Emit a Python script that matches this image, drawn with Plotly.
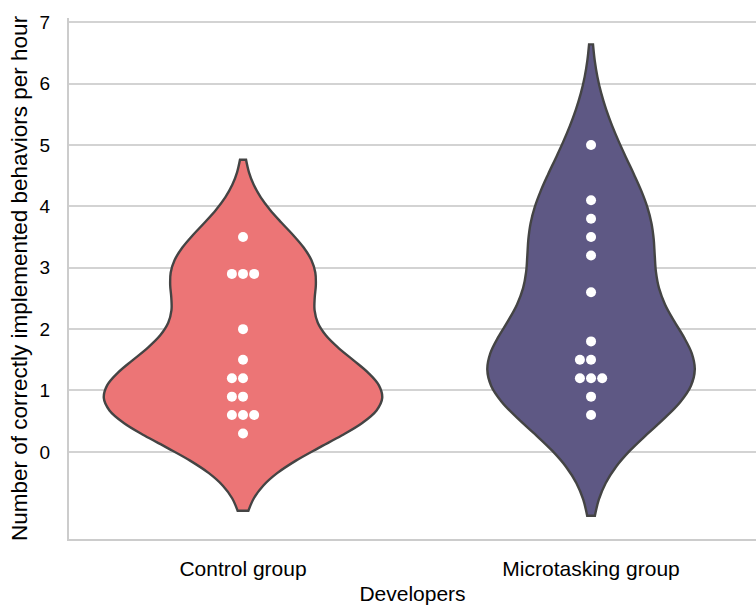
import numpy as np
import plotly.graph_objects as go

# Behaviors implemented per hour, one value per developer
groups = ["Control group", "Microtasking group"]
control = [3.5, 2.9, 2.9, 2.9, 2.0, 1.5, 1.2, 1.2, 0.9, 0.9, 0.6, 0.6, 0.6, 0.3]
microtasking = [5.0, 4.1, 3.8, 3.5, 3.2, 2.6, 1.8, 1.5, 1.5, 1.2, 1.2, 1.2, 0.9, 0.6]
y_ticks = [0, 1, 2, 3, 4, 5, 6, 7]

fills = ["#EC7576", "#5E5884"]
series = [control, microtasking]
MAX_WIDTH = 0.8


def scott_bw(vals):
    v = np.asarray(vals, dtype=float)
    return v.std(ddof=1) * len(v) ** (-1 / 5)


def kde_peak(vals):
    # peak of a Gaussian KDE, used to give the violins equal area
    v = np.asarray(vals, dtype=float)
    bw = scott_bw(v)
    grid = np.linspace(v.min() - 2 * bw, v.max() + 2 * bw, 400)
    dens = np.exp(-0.5 * ((grid[:, None] - v[None, :]) / bw) ** 2).sum(axis=1)
    return dens.max() / (len(v) * bw * np.sqrt(2 * np.pi))


def swarm_offsets(vals, step=0.032):
    # spread identical values sideways: centre, left, right, ...
    offs = []
    seen = {}
    for v in vals:
        k = seen.get(v, 0)
        seen[v] = k + 1
        if k == 0:
            offs.append(0.0)
        elif k % 2 == 1:
            offs.append(-step * ((k + 1) // 2))
        else:
            offs.append(step * (k // 2))
    return offs


peaks = [kde_peak(s) for s in series]
top_peak = max(peaks)

fig = go.Figure()
for i, (vals, col) in enumerate(zip(series, fills)):
    fig.add_trace(go.Violin(
        y=vals, x0=i, name=groups[i],
        bandwidth=scott_bw(vals), spanmode="soft",
        scalemode="width", width=MAX_WIDTH * peaks[i] / top_peak,
        fillcolor=col, opacity=1,
        line=dict(color="#444444", width=2.4),
        points=False, box_visible=False, meanline_visible=False,
        hoverinfo="skip", showlegend=False,
    ))
for i, vals in enumerate(series):
    xs = [i + o for o in swarm_offsets(vals)]
    fig.add_trace(go.Scatter(
        x=xs, y=vals, mode="markers",
        marker=dict(color="white", size=10, line=dict(width=0)),
        showlegend=False, hoverinfo="skip",
    ))

font = "Liberation Sans, Arial, sans-serif"
fig.update_layout(
    width=756, height=609,
    margin=dict(l=69, r=0, t=18, b=70),
    paper_bgcolor="white", plot_bgcolor="white",
    font=dict(family=font, size=19, color="black"),
    violinmode="overlay",
    xaxis=dict(
        range=[-0.5, 1.474], tickvals=[0, 1], ticktext=groups,
        tickfont=dict(size=21),
        showgrid=False, zeroline=False,
        showline=True, linecolor="#cccccc", linewidth=2,
        ticks="", ticklabelstandoff=10,
        title=dict(text="Developers", font=dict(size=21), standoff=7),
    ),
    yaxis=dict(
        range=[-1.42, 7.07], tickvals=y_ticks,
        tickfont=dict(size=19),
        showgrid=True, gridcolor="#d3d3d3", gridwidth=1.5,
        zeroline=False,
        showline=True, linecolor="#cccccc", linewidth=2,
        ticks="", ticklabelstandoff=13,
        title=dict(text="Number of correctly implemented behaviors per hour",
                   font=dict(size=22.5), standoff=6),
    ),
)

fig.write_html("out.html")
